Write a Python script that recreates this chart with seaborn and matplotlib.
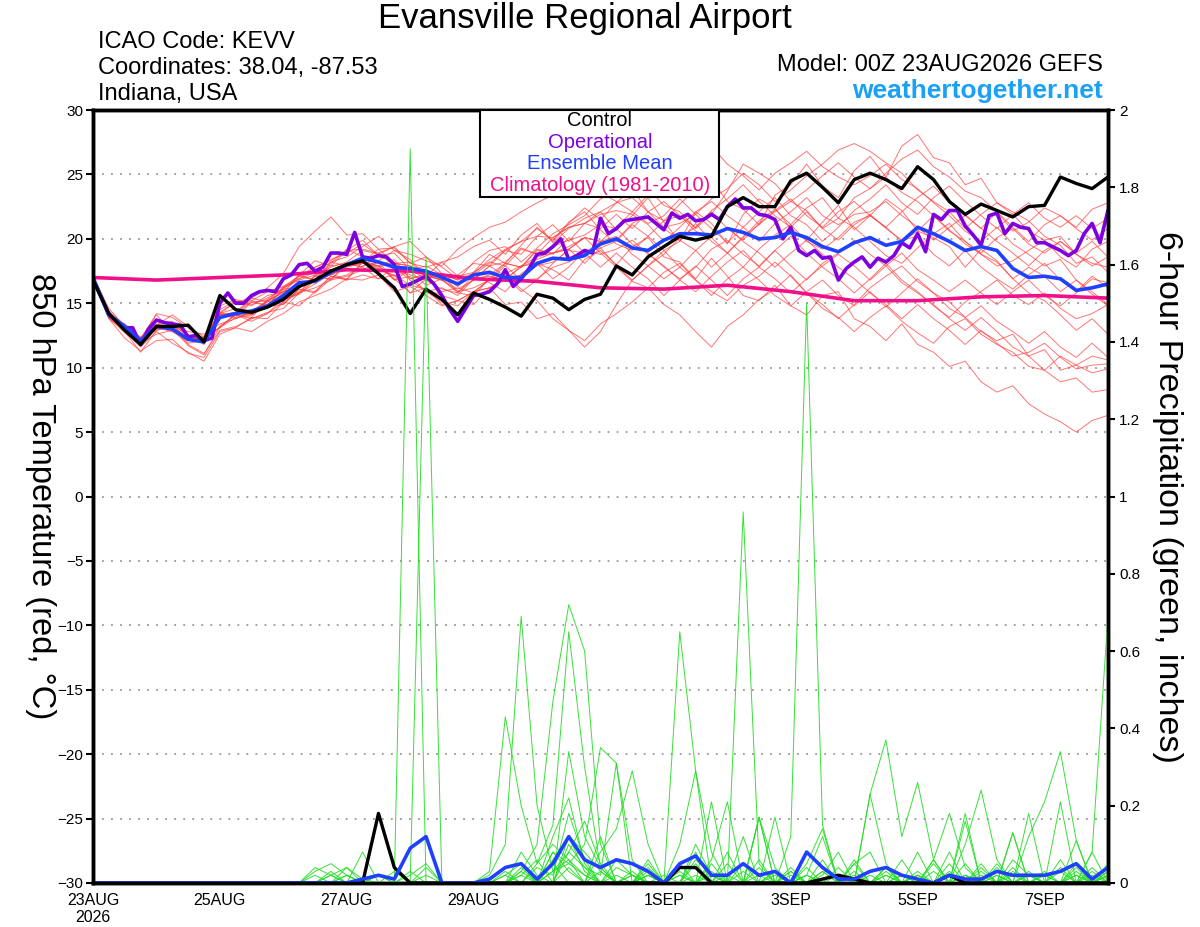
import pandas as pd
import seaborn as sns
import matplotlib.pyplot as plt
from matplotlib.patches import Rectangle

# ---- data ----
start = "2026-08-23"
times = pd.date_range(start, periods=65, freq="6h")
op_times = pd.date_range(start, periods=129, freq="3h")
clim_times = pd.date_range(start, periods=17, freq="1D")

control_temp = [16.8, 14.2, 12.9, 11.8, 13.2, 13.2, 13.3, 12.0, 15.6, 14.5, 14.3, 14.7, 15.3, 16.3, 16.8, 17.5, 18.0,
                18.3, 17.3, 16.2, 14.2, 16.1, 15.3, 14.1, 15.8, 15.3, 14.7, 14.0, 15.7, 15.4, 14.5, 15.3, 15.7,
                17.9, 17.2, 18.6, 19.4, 20.2, 19.9, 20.2, 22.5, 23.2, 22.5, 22.5, 24.5, 25.1, 24.0, 22.8, 24.6,
                25.1, 24.6, 23.9, 25.6, 24.6, 22.9, 21.9, 22.7, 22.2, 21.7, 22.5, 22.6, 24.8, 24.3, 23.9, 24.8]

mean_temp = [17.0, 14.1, 13.2, 12.1, 13.2, 13.0, 12.2, 12.0, 13.9, 14.2, 14.4, 14.8, 15.6, 16.6, 16.7, 17.4, 18.0,
             18.5, 18.2, 17.8, 17.7, 17.5, 17.0, 16.5, 17.2, 17.4, 17.0, 17.0, 18.1, 18.5, 18.4, 18.7, 19.6,
             20.0, 19.3, 19.1, 19.9, 20.4, 20.4, 20.3, 20.8, 20.5, 20.0, 20.1, 20.5, 20.1, 19.4, 19.0, 19.7,
             20.1, 19.5, 19.8, 20.9, 20.4, 19.8, 19.1, 19.4, 19.1, 17.7, 17.0, 17.1, 16.9, 16.0, 16.2, 16.5]

oper_temp = [16.9, 15.5, 14.1, 13.6, 13.1, 13.1, 11.8, 13.0, 13.7, 13.5, 13.4, 13.3, 12.4, 12.5, 12.1, 12.3,
             15.0, 15.8, 15.0, 15.0, 15.6, 15.9, 16.0, 15.9, 16.9, 17.2, 18.0, 18.1, 17.5, 17.8, 18.9, 18.9,
             18.8, 20.5, 18.6, 18.5, 18.7, 18.6, 18.0, 16.3, 16.5, 16.8, 17.1, 16.5, 15.6, 14.5, 13.6, 14.6,
             15.6, 15.7, 15.9, 16.5, 17.6, 16.3, 16.9, 17.7, 18.8, 18.9, 19.4, 20.0, 18.4, 18.7, 19.1, 18.9,
             21.6, 20.4, 20.8, 21.4, 21.5, 21.6, 21.7, 21.2, 20.7, 22.0, 21.6, 21.9, 21.4, 21.5, 21.9, 21.5,
             22.5, 23.1, 22.4, 22.4, 21.9, 21.8, 21.5, 20.0, 20.9, 19.1, 18.7, 19.1, 18.5, 18.6, 16.8, 17.7,
             18.2, 18.6, 17.8, 18.5, 18.2, 18.7, 19.7, 19.3, 20.4, 19.0, 21.9, 21.5, 22.2, 22.2, 21.0, 20.3,
             19.5, 21.8, 22.0, 20.4, 21.2, 20.9, 20.8, 19.7, 19.7, 19.4, 19.1, 18.7, 19.1, 20.4, 21.2, 19.7,
             22.2]

clim_temp = [17.0, 16.8, 17.0, 17.2, 17.6, 17.5, 16.9, 16.7, 16.2, 16.1, 16.4, 15.9, 15.2, 15.2, 15.5, 15.6, 15.4]

member_temps = [
    [17.0,14.3,13.1,12.0,13.6,13.4,12.5,11.8,14.2,14.6,14.1,15.3,16.2,16.9,17.8,18.4,18.9,
     19.6,18.7,18.9,17.6,17.9,17.2,16.3,17.4,18.8,18.1,19.5,20.9,19.8,21.2,22.4,21.5,
     22.8,23.9,22.1,21.4,22.7,23.8,24.6,22.9,22.3,21.1,23.4,24.2,25.8,24.1,23.2,25.3,
     26.4,24.8,27.2,28.1,26.3,25.9,24.2,24.7,22.8,22.1,21.4,20.2,19.5,18.1,18.6,17.4],
    [16.9,14.0,12.8,11.2,12.9,13.3,11.7,11.0,13.2,14.1,13.6,14.2,15.4,15.8,16.5,17.3,16.8,
     18.2,17.7,17.1,17.5,16.4,16.9,15.8,17.2,16.6,15.9,17.3,18.1,17.6,16.8,18.4,19.1,
     18.0,19.4,20.1,18.6,18.2,16.9,18.5,17.1,15.6,15.2,16.4,14.8,14.1,15.6,15.9,13.8,
     13.2,12.1,13.4,11.8,11.2,10.1,10.5,8.9,8.1,8.6,7.2,6.4,5.8,5.0,5.9,6.3],
    [17.0,14.1,13.4,12.3,14.1,12.8,12.4,12.2,14.5,15.2,14.8,15.6,15.9,17.2,16.8,18.1,19.2,
     18.6,18.3,19.1,18.4,17.1,18.2,18.6,19.4,19.9,18.8,20.3,21.2,19.7,20.8,21.6,22.1,
     20.7,21.8,23.2,21.3,19.8,22.1,21.2,19.6,21.9,23.1,22.4,20.8,19.9,21.3,22.6,20.7,
     21.8,23.1,22.2,20.6,20.1,19.4,17.8,19.2,18.3,16.9,15.8,15.2,14.1,12.9,13.8,12.6],
    [17.1,14.6,13.2,12.1,13.3,13.6,12.2,12.4,14.1,14.3,15.4,16.2,17.3,19.4,20.6,21.7,20.3,
     20.4,19.2,19.3,18.1,18.6,17.3,16.8,18.2,19.1,19.4,18.2,19.3,20.4,21.1,21.8,23.1,
     23.6,24.8,23.9,22.6,22.1,20.8,21.9,23.7,25.8,25.1,24.3,22.9,22.2,20.8,21.6,23.2,
     23.9,25.1,26.2,26.9,25.6,24.8,23.7,23.2,22.1,20.6,21.3,22.4,21.8,20.9,22.3,22.8],
    [16.8,13.8,12.9,11.6,12.8,11.9,11.2,10.5,12.6,13.1,12.8,13.6,14.2,15.1,15.6,16.1,16.9,
     16.8,17.2,15.9,16.3,15.6,14.8,15.2,15.9,16.8,17.3,17.9,18.6,18.9,19.4,20.1,18.9,
     17.8,16.7,16.2,14.9,14.1,12.8,11.6,13.2,14.1,15.3,16.1,17.2,15.8,14.9,13.8,14.9,
     16.2,17.1,17.9,16.7,15.8,15.1,13.9,12.8,12.1,12.6,10.9,11.4,9.8,10.2,10.9,10.6],
    [17.0,14.2,13.0,12.4,13.1,13.2,12.8,12.6,13.4,13.8,14.3,14.9,15.3,15.7,16.8,17.4,18.1,
     17.8,18.9,19.4,19.8,18.6,17.8,16.9,17.3,18.4,19.2,19.8,20.8,19.9,21.3,22.1,20.7,
     19.6,19.1,20.2,21.4,21.8,20.6,20.1,18.9,17.8,19.2,20.3,21.1,22.4,23.2,21.6,20.9,
     19.8,18.7,18.1,19.3,20.4,21.2,19.8,18.8,18.2,16.9,17.8,17.1,15.9,16.8,15.7,14.8],
    [17.0,14.4,13.3,12.2,13.4,13.1,12.3,12.1,14.2,15.1,15.4,15.1,16.3,16.9,17.4,18.2,18.6,
     19.4,20.2,19.1,18.8,18.3,17.9,19.2,20.1,20.9,21.3,22.1,22.8,23.4,23.9,24.8,23.6,
     22.9,22.1,23.4,24.2,24.9,26.1,27.2,25.8,24.9,23.8,25.1,25.9,26.8,25.6,24.8,24.2,
     24.9,25.8,24.6,23.9,22.8,21.8,20.6,19.8,20.9,19.6,18.8,17.9,18.4,16.8,15.9,14.9],
    [16.9,13.9,12.7,11.9,12.6,12.9,11.8,11.1,12.9,13.2,13.8,14.3,14.6,15.8,16.2,16.8,17.1,
     17.6,18.2,17.9,17.2,16.8,16.1,15.8,15.6,16.9,17.2,16.1,15.2,13.8,12.9,12.1,13.4,
     14.2,15.1,16.2,17.4,18.1,16.8,15.9,15.2,16.4,17.1,18.2,17.1,15.8,14.6,13.9,12.8,
     13.9,14.8,13.6,12.7,11.9,13.2,13.8,12.6,11.8,11.2,10.1,9.8,10.9,10.2,9.6,9.9],
    [17.0,14.1,13.2,12.1,13.1,13.4,12.1,12.3,13.8,14.2,14.4,15.2,15.9,16.2,17.1,16.9,17.9,
     18.2,17.6,17.2,16.4,16.1,15.6,15.2,14.9,16.2,16.9,17.8,18.4,18.9,19.2,18.1,19.3,
     19.8,21.1,20.2,19.1,19.8,21.2,19.8,18.9,20.1,21.4,22.3,21.1,19.8,19.2,20.1,21.3,
     21.8,20.9,19.8,20.6,21.8,20.7,19.6,18.8,17.9,18.3,19.1,19.9,18.6,17.8,19.2,19.8],
    [17.1,14.3,13.1,12.2,13.3,14.1,13.2,12.4,14.8,15.3,14.9,15.4,16.1,17.2,18.3,17.9,19.1,
     19.9,18.7,18.1,17.9,17.2,16.8,16.1,16.8,17.9,17.1,15.9,16.8,18.1,19.2,20.1,19.8,
     20.9,22.1,21.2,21.8,23.1,21.9,20.8,19.7,20.9,22.1,23.2,21.8,21.1,19.8,20.9,22.2,
     23.1,24.2,22.8,21.9,23.2,24.1,22.9,21.8,20.8,21.9,22.8,21.6,20.9,21.8,20.8,21.6],
    [17.0,13.9,13.0,12.3,12.9,13.2,12.1,12.2,13.1,13.9,14.1,14.8,14.9,16.1,15.8,16.9,17.2,
     17.9,18.2,16.8,17.6,16.9,17.2,15.9,16.2,16.8,17.9,16.8,16.9,17.8,18.2,18.9,19.3,
     17.9,16.8,17.9,19.1,17.8,16.8,15.6,16.9,17.8,16.8,15.6,14.8,15.9,16.8,15.6,14.8,
     15.9,14.7,15.8,16.9,15.8,14.6,13.9,14.8,13.6,12.8,11.9,12.8,11.6,10.8,11.9,10.8],
    [17.0,14.2,13.3,12.1,14.2,13.9,13.1,12.2,14.1,14.3,15.2,14.8,16.1,16.2,17.1,17.8,18.2,
     19.1,18.8,19.4,18.1,17.8,18.2,17.1,16.8,17.9,18.2,19.3,18.8,19.4,19.9,20.3,21.1,
     20.8,19.6,18.9,17.8,16.9,17.8,19.2,19.9,18.8,17.9,19.1,20.2,18.9,17.8,16.9,15.8,
     16.9,18.1,16.8,15.9,14.8,13.9,15.1,15.9,16.8,15.6,14.9,15.8,14.6,13.8,14.2,14.9],
    [17.0,13.8,12.3,11.3,12.1,12.2,11.1,10.8,12.8,13.1,13.9,13.8,15.1,14.8,15.9,17.1,16.8,
     17.2,16.9,17.8,16.8,15.9,15.1,14.8,15.9,16.2,14.9,15.1,13.8,14.2,12.9,11.6,12.8,
     14.9,16.8,17.9,18.8,20.1,20.9,22.1,20.8,19.9,21.2,22.1,22.9,23.8,24.9,25.9,24.8,
     23.9,24.8,23.6,22.9,21.8,20.6,19.8,18.9,20.1,20.8,19.6,18.9,19.8,18.8,17.9,18.6],
    [17.0,14.1,13.1,12.2,13.2,12.9,12.4,12.3,14.3,13.9,15.1,15.2,15.8,17.1,16.8,18.2,17.9,
     18.2,19.2,18.1,17.9,17.1,16.8,17.2,18.1,17.9,19.1,18.8,20.2,21.1,19.8,21.2,20.8,
     21.9,20.8,22.1,22.9,21.8,20.9,22.2,23.1,24.2,22.9,21.8,20.9,22.1,20.8,19.9,21.1,
     21.9,20.8,19.9,20.2,18.8,17.9,19.1,17.8,16.9,16.1,17.2,18.1,16.8,15.9,17.1,16.2],
    [17.0,14.2,13.2,11.8,13.1,13.2,11.9,12.1,13.2,14.1,13.8,14.2,15.1,15.8,17.2,16.8,18.1,
     17.8,16.9,17.2,15.8,16.9,15.9,16.2,15.8,16.9,18.1,17.8,19.2,18.8,20.1,18.9,17.8,
     18.9,17.8,16.9,15.6,16.8,17.9,16.8,15.6,16.9,17.8,19.1,17.9,16.8,18.1,18.9,19.9,
     18.8,17.9,16.6,15.8,14.9,13.8,12.9,13.9,12.8,11.6,10.9,9.8,8.9,9.2,8.1,8.3],
    [17.0,14.1,13.1,12.2,13.3,13.1,12.2,12.3,14.2,13.8,14.4,15.1,15.9,16.3,16.9,17.2,17.9,
     18.1,17.8,18.2,16.9,17.2,16.8,17.1,17.4,18.2,17.9,19.2,18.8,20.1,20.9,21.2,22.1,
     22.8,23.2,22.1,20.9,21.2,21.9,23.1,23.9,25.1,24.2,22.9,23.8,24.9,25.8,26.9,27.4,
     26.8,25.9,25.1,23.8,22.9,22.1,20.8,21.9,22.8,21.9,20.6,19.9,20.2,18.8,18.1,17.8],
    [17.0,14.2,13.1,12.1,13.2,13.1,12.3,12.1,14.1,14.2,15.1,14.8,16.2,16.8,17.2,17.9,18.1,
     18.3,17.9,16.9,15.8,16.2,14.9,15.2,15.9,16.2,16.8,17.9,18.1,16.9,17.8,19.1,18.8,
     19.2,19.9,18.8,17.9,16.8,15.9,17.1,18.2,19.1,17.8,16.9,15.8,16.9,17.9,18.8,17.9,
     16.8,17.9,18.9,17.6,16.8,15.9,16.8,15.8,14.9,15.9,16.8,15.6,14.8,15.8,16.9,16.6],
    [17.0,14.0,13.2,12.0,13.0,13.3,12.2,12.1,14.0,14.1,13.9,15.2,14.9,16.1,15.9,17.1,16.9,
     18.2,17.9,18.4,16.9,17.3,16.8,15.9,16.8,17.2,18.1,17.8,19.1,18.9,19.2,20.1,19.8,
     19.9,21.2,21.8,20.8,19.9,19.1,17.8,18.9,20.2,21.1,22.2,23.1,21.8,20.9,22.1,22.9,
     21.8,20.9,22.1,23.2,24.1,22.8,21.9,20.8,22.1,20.9,19.8,21.1,21.8,20.8,19.9,20.8],
    [16.9,14.1,12.9,12.3,13.1,12.8,12.1,12.4,13.1,14.2,14.1,14.9,15.2,15.9,16.8,17.2,17.8,
     18.1,17.9,16.8,17.1,15.9,16.2,15.6,16.9,17.1,16.8,17.2,17.9,18.2,19.1,18.9,19.8,
     20.2,18.8,17.9,16.9,17.8,19.1,20.2,20.9,19.8,18.9,17.8,18.9,19.9,18.8,17.8,16.9,
     15.8,14.9,13.8,14.9,13.8,12.9,11.8,12.9,11.9,10.9,11.2,11.9,10.8,9.9,10.2,10.3],
    [17.0,14.2,13.2,12.1,13.2,13.0,12.1,12.0,14.3,15.1,15.2,15.9,16.3,17.1,17.8,18.3,19.1,
     19.2,18.9,18.1,18.2,17.1,17.3,16.8,17.2,18.1,19.1,19.8,20.2,20.1,20.9,21.2,21.9,
     22.2,21.9,21.1,19.8,20.9,22.1,22.9,21.8,20.9,19.8,21.2,22.1,23.2,21.8,21.1,21.9,
     22.1,22.9,21.8,20.9,19.9,20.9,21.8,20.8,19.8,18.9,17.9,19.1,19.8,18.9,19.8,18.6],
]

# 6-hour precipitation, hundredths of an inch
control_precip = [0,0,0,0,0,0,0,0,0,0,0,0,0, 0,0,0,0,0,18,4,0,0,0,0,0,
                  0,0,0,0,0,0,0,0,0,0,0,0, 4,4,0,0,0,0,0,0,0,1,2,1,
                  0,0,0,0,0,2,0,0,0,0,0,0,0,0,0,0]
mean_precip = [0,0,0,0,0,0,0,0,0,0,0,0,0, 0,0,0,0,1,2,1,9,12,0,0,0,
               1,4,5,1,5,12,6,4,6,5,3,0, 5,7,2,2,5,2,3,0,8,4,1,1,
               3,4,2,1,0,2,1,1,3,2,2,2,3,5,1,4]
member_precip = [
    [0,0,0,0,0,0,0,0,0,0,0,0,0, 0,3,5,2,0,0,0,190,0,0,0,0, 0,2,5,0,3,8,4,0,2,0,0,0,
     3,0,5,0,0,2,0,0,4,0,0,0, 2,0,0,0,3,0,0,5,0,0,0,2,0,3,0,0],
    [0,0,0,0,0,0,0,0,0,0,0,0,0, 0,0,2,4,1,0,0,0,162,0,0,0, 0,0,8,2,0,12,3,0,4,2,0,0,
     0,6,2,0,0,0,3,0,0,2,8,0, 0,4,0,2,0,0,0,3,0,6,2,0,0,4,0,2],
    [0,0,0,0,0,0,0,0,0,0,0,0,0, 0,0,0,0,8,0,0,2,5,0,0,0, 2,10,69,20,3,6,2,0,0,0,5,0,
     0,2,0,0,12,0,0,3,0,0,0,2, 0,0,6,0,0,0,2,0,0,0,3,0,0,0,8,0],
    [0,0,0,0,0,0,0,0,0,0,0,0,0, 0,0,3,0,0,2,0,0,4,0,0,0, 0,0,3,10,47,72,60,10,0,2,0,0,
     0,0,2,0,0,4,0,0,0,6,0,0, 0,2,0,0,0,0,0,4,0,0,2,0,0,0,3,0],
    [0,0,0,0,0,0,0,0,0,0,0,0,0, 0,0,0,2,0,0,0,0,0,0,0,0, 3,43,20,5,15,65,30,4,0,0,3,0,
     2,0,0,8,0,0,0,0,2,0,0,5, 0,0,0,3,0,0,0,0,2,0,0,0,0,2,0,0],
    [0,0,0,0,0,0,0,0,0,0,0,0,0, 0,0,0,0,0,2,0,3,0,0,0,0, 0,0,4,0,8,3,0,0,6,2,0,0,
     0,10,2,0,96,5,0,0,0,3,0,0, 0,0,2,0,0,5,0,0,0,3,0,0,0,2,0,0],
    [0,0,0,0,0,0,0,0,0,0,0,0,0, 0,0,0,4,0,0,0,0,0,0,0,0, 0,0,0,4,2,18,6,0,0,0,2,0,
     0,0,0,2,0,0,0,12,150,15,0,0, 0,3,0,0,0,0,2,0,0,4,0,0,0,0,2,0],
    [0,0,0,0,0,0,0,0,0,0,0,0,0, 0,0,0,0,0,0,0,0,0,0,0,0, 0,0,2,0,0,10,4,2,31,0,6,0,
     65,29,8,0,0,6,0,0,0,3,0,0, 0,2,0,0,6,0,0,0,0,2,0,0,3,0,0,0],
    [0,0,0,0,0,0,0,0,0,0,0,0,0, 0,0,0,2,0,0,0,0,0,0,0,0, 0,0,0,5,10,6,0,3,0,0,2,0,
     0,5,0,0,3,0,0,0,2,0,0,6, 0,0,2,0,0,0,5,0,0,0,0,2,0,0,8,69],
    [0,0,0,0,0,0,0,0,0,0,0,0,0, 0,0,0,0,0,0,3,0,0,0,0,0, 0,2,0,0,6,12,8,3,0,0,0,2,
     0,0,3,0,0,0,2,0,5,14,0,0, 23,37,12,26,6,0,2,0,4,0,0,3,0,0,0,2],
    [0,0,0,0,0,0,0,0,0,0,0,0,0, 0,0,0,0,0,0,0,0,0,0,0,0, 0,0,3,0,0,34,12,4,0,0,2,0,
     0,0,0,0,5,0,0,0,0,0,0,0, 0,4,0,2,0,8,0,0,2,0,12,21,34,11,0,2],
    [0,0,0,0,0,0,0,0,0,0,0,0,0, 0,0,0,0,0,0,0,0,2,0,0,0, 0,3,0,0,8,5,10,35,31,6,0,0,
     5,0,0,0,0,17,0,3,0,0,0,0, 0,0,0,2,0,0,18,0,0,0,0,0,4,0,0,0],
    [0,0,0,0,0,0,0,0,0,0,0,0,0, 0,0,2,0,0,0,0,0,0,0,0,0, 0,0,0,0,5,0,0,8,14,29,10,0,
     2,0,21,0,0,0,0,0,0,0,4,0, 0,0,0,0,5,0,10,24,6,0,0,0,6,0,0,3],
    [0,0,0,0,0,0,0,0,0,0,0,0,0, 0,2,0,0,0,0,0,0,0,0,0,0, 0,0,0,0,3,5,2,0,0,0,4,0,
     10,29,0,5,0,17,0,0,2,12,0,0, 0,0,0,8,0,0,0,2,0,13,0,0,0,5,0,0],
    [0,0,0,0,0,0,0,0,0,0,0,0,0, 0,0,0,0,0,0,0,0,0,0,0,0, 0,0,0,0,12,22,5,0,0,3,0,0,
     0,8,0,0,0,0,0,2,0,0,0,0, 23,5,0,0,6,18,4,0,0,0,18,0,0,0,4,0],
    [0,0,0,0,0,0,0,0,0,0,0,0,0, 0,0,0,0,0,0,0,0,0,0,0,0, 0,0,2,6,0,0,0,12,0,0,0,0,
     0,0,6,21,0,0,3,0,0,0,2,0, 0,0,0,0,0,3,0,0,5,0,0,0,21,0,0,0],
    [0,0,0,0,0,0,0,0,0,0,0,0,0, 0,0,0,0,0,0,0,0,0,0,0,0, 0,0,0,0,0,8,16,5,0,0,0,0,
     0,0,0,0,0,17,4,0,0,0,0,3, 0,0,0,0,0,0,16,0,0,0,2,0,0,0,0,5],
    [0,0,0,0,0,0,0,0,0,0,0,0,0, 0,0,0,0,0,0,0,0,0,0,0,0, 0,0,0,0,0,0,0,0,0,2,0,0,
     0,0,0,0,0,0,17,0,0,0,0,0, 0,0,0,0,0,0,0,0,0,13,0,0,0,0,0,0],
    [0,0,0,0,0,0,0,0,0,0,0,0,0, 0,0,0,0,0,0,0,0,0,0,0,0, 0,0,0,0,0,4,0,0,0,0,0,0,
     0,0,0,0,0,0,0,4,0,0,0,0, 0,0,0,0,0,0,0,0,0,0,0,0,0,11,0,2],
    [0,0,0,0,0,0,0,0,0,0,0,0,0, 0,4,2,0,0,0,0,0,0,0,0,0, 0,0,0,0,0,0,0,0,0,0,0,0,
     0,0,0,0,0,0,0,0,0,0,0,5, 8,0,0,0,0,0,0,0,0,0,0,0,0,0,0,3],
]

tick_dates = ["2026-08-23", "2026-08-25", "2026-08-27", "2026-08-29",
              "2026-09-01", "2026-09-03", "2026-09-05", "2026-09-07"]
tick_labels = ["23AUG\n2026", "25AUG", "27AUG", "29AUG", "1SEP", "3SEP", "5SEP", "7SEP"]

legend_labels = ["Control", "Operational", "Ensemble Mean", "Climatology (1981-2010)"]
legend_colors = ["black", "#7f00df", "#2040ff", "#f0108a"]

for row in member_temps + member_precip:
    assert len(row) == 65, len(row)

# ---- long tables for seaborn ----
temp_df = pd.DataFrame([(m, t, v) for m, row in enumerate(member_temps)
                        for t, v in zip(times, row)], columns=["member", "time", "temp"])
prcp_df = pd.DataFrame([(m, t, v / 100) for m, row in enumerate(member_precip)
                        for t, v in zip(times, row)], columns=["member", "time", "precip"])

sns.set_style("white")
plt.rcParams["font.family"] = ["Liberation Sans", "DejaVu Sans"]
plt.rcParams.update({"text.color": "black", "axes.labelcolor": "black",
                     "xtick.color": "black", "ytick.color": "black"})

fig = plt.figure(figsize=(12, 9.27), dpi=100)
ax = fig.add_axes([0.0775, 0.0475, 0.8458, 0.8338])
ax2 = ax.twinx()

# temperature (left axis)
sns.lineplot(data=temp_df, x="time", y="temp", units="member", estimator=None,
             color="#ff3a3a", lw=0.7, alpha=0.7, legend=False, ax=ax)
sns.lineplot(x=clim_times, y=clim_temp, color=legend_colors[3], lw=2.6, ax=ax)
sns.lineplot(x=op_times, y=oper_temp, color=legend_colors[1], lw=2.6, ax=ax)
sns.lineplot(x=times, y=mean_temp, color=legend_colors[2], lw=2.6, ax=ax)
sns.lineplot(x=times, y=control_temp, color=legend_colors[0], lw=2.4, ax=ax)

# precipitation (right axis)
sns.lineplot(data=prcp_df, x="time", y="precip", units="member", estimator=None,
             color="#22dd22", lw=0.7, alpha=0.9, legend=False, ax=ax2)
sns.lineplot(x=times, y=[v / 100 for v in control_precip], color="black", lw=2.4, ax=ax2)
sns.lineplot(x=times, y=[v / 100 for v in mean_precip], color=legend_colors[2], lw=2.6, ax=ax2)

ax.set_xlim(times[0], times[-1])
ax.set_ylim(-30, 30)
ax2.set_ylim(0, 2)
ax.set_yticks(range(-30, 31, 5))
ax2.set_yticks([i / 10 for i in range(0, 21, 2)])
ax2.set_yticklabels(["0", "0.2", "0.4", "0.6", "0.8", "1", "1.2", "1.4", "1.6", "1.8", "2"])
ax.set_xticks(pd.to_datetime(tick_dates))
ax.set_xticklabels(tick_labels)
ax.yaxis.grid(True, linestyle=(0, (1, 4)), color="#999999", lw=1.3)
ax.set_axisbelow(True)

ax.set_xlabel("")
ax.set_ylabel("850 hPa Temperature (red, °C)", fontsize=23.5, rotation=270)
ax.yaxis.set_label_coords(-0.067, 0.5)
ax2.set_xlabel("")
ax2.set_ylabel("6-hour Precipitation (green, inches)", fontsize=24.5, rotation=270)
ax2.yaxis.set_label_coords(1.074, 0.5)

for a in (ax, ax2):
    for s in a.spines.values():
        s.set_linewidth(2.5)
        s.set_color("black")
ax.tick_params(axis="both", direction="out", length=5, width=1.5, labelsize=11, colors="black", pad=2)
ax.tick_params(axis="x", labelsize=11.5)
ax2.tick_params(axis="y", direction="out", length=5, width=1.5, labelsize=11, pad=3)

# legend box
ax2.add_patch(Rectangle((0.381, 0.8875), 0.236, 0.1125, transform=ax2.transAxes,
                        facecolor="white", edgecolor="black", lw=1.5, zorder=10, clip_on=False))
for lab, col, yy in zip(legend_labels, legend_colors, [0.986, 0.9586, 0.9314, 0.903]):
    ax2.text(0.4995, yy, lab, color=col, fontsize=14.5, ha="center", va="center",
             transform=ax2.transAxes, zorder=11)

# header texts
fig.text(0.4875, 0.980, "Evansville Regional Airport", fontsize=25, ha="center", va="center")
fig.text(0.0815, 0.955, "ICAO Code: KEVV", fontsize=17, ha="left", va="center")
fig.text(0.0815, 0.927, "Coordinates: 38.04, -87.53", fontsize=17, ha="left", va="center")
fig.text(0.0815, 0.899, "Indiana, USA", fontsize=17, ha="left", va="center")
fig.text(0.919, 0.930, "Model: 00Z 23AUG2026 GEFS", fontsize=17, ha="right", va="center")
fig.text(0.919, 0.902, "weathertogether.net", fontsize=19, ha="right", va="center",
         color="#1aa0f5", fontweight="bold")

fig.savefig("out.png", dpi=100)
